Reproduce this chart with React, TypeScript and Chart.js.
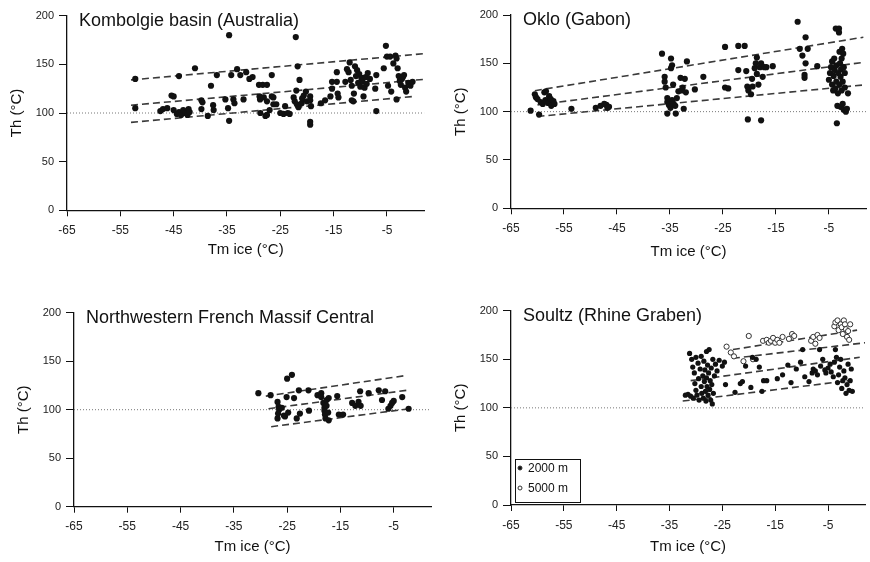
import { useEffect, useRef } from "react";
import { Chart, registerables } from "chart.js";

Chart.register(...registerables);

// ---------- shared axes ----------
const X_MIN = -65;
const X_MAX = 2;
const X_TICKS = [-65, -55, -45, -35, -25, -15, -5];
const Y_MIN = 0;
const Y_MAX = 200;
const Y_STEP = 50;
const REF_TH = 100;
const X_TITLE = "Tm ice (°C)";
const Y_TITLE = "Th (°C)";

// ---------- panel titles ----------
const TITLES = [
  "Kombolgie basin (Australia)",
  "Oklo (Gabon)",
  "Northwestern French Massif Central",
  "Soultz (Rhine Graben)",
];

// ---------- data: [Tm ice, Th] ----------
const KOMBOLGIE: [number, number][] = [
  [-52.2, 135], [-52.2, 105],
  [-47.5, 102], [-47, 104], [-46.2, 105], [-45.4, 118], [-45, 117], [-45, 103], [-44.4, 99], [-44, 138], [-44, 101],
  [-43.6, 98], [-43.2, 103], [-42.8, 100], [-42.4, 98], [-42.2, 104], [-42, 101],
  [-41, 146], [-39.8, 113], [-39.6, 111], [-39.8, 104], [-38.6, 97], [-38, 128], [-37.6, 108], [-37.5, 103],
  [-36.9, 139], [-35.3, 114], [-34.8, 105], [-34.6, 180], [-34.6, 92], [-34.2, 139], [-33.8, 114], [-33.6, 110],
  [-33.1, 145], [-32.5, 139], [-31.9, 114], [-31.4, 142], [-30.8, 135], [-30.2, 137],
  [-29, 129], [-28.9, 117], [-28.8, 114], [-28.75, 100], [-28.3, 129], [-28.1, 116], [-27.8, 97], [-27.5, 129],
  [-27.5, 112], [-27.5, 98], [-27, 103], [-26.6, 139], [-26.6, 117], [-26.3, 116], [-26.3, 109], [-25.75, 109],
  [-25, 100], [-24.4, 99], [-24.1, 107], [-23.6, 100], [-23.25, 99], [-22.5, 116], [-22.3, 112], [-22.1, 178],
  [-22, 123], [-21.75, 148], [-21.9, 109], [-21.6, 106], [-21.4, 134], [-21, 110], [-20.9, 115], [-20.6, 118],
  [-20.2, 122], [-20, 112], [-19.4, 117], [-19.4, 113], [-19.25, 107], [-19.4, 88], [-19.4, 91],
  [-17.4, 110], [-16.6, 113], [-15.3, 132], [-15.3, 125], [-15.6, 117], [-14.4, 142], [-14.4, 132], [-14.25, 120], [-14.1, 116],
  [-12.8, 132], [-12.2, 142], [-12.5, 145], [-12, 152], [-11.8, 134], [-11.6, 128], [-11.6, 113], [-11.3, 112],
  [-11, 148], [-11.2, 120], [-10.8, 138], [-10.6, 144], [-10.4, 131], [-10.2, 140], [-10, 127], [-9.8, 136],
  [-9.6, 133], [-9.4, 117], [-9.2, 126], [-9, 137], [-8.8, 130], [-8.6, 141], [-8.2, 135], [-7.2, 125], [-7, 139], [-7, 102],
  [-5.6, 146], [-5.2, 169], [-5, 158], [-4.8, 128], [-4.4, 158], [-4.2, 122], [-3.8, 151], [-3.4, 159], [-3.2, 156],
  [-3, 146], [-3.2, 114], [-2.8, 138], [-2.6, 133], [-2.4, 129], [-2.2, 135], [-2, 137], [-1.8, 139], [-1.6, 126],
  [-1.4, 122], [-1, 131], [-0.6, 128], [-0.2, 132],
];

const OKLO: [number, number][] = [
  [-61.3, 101],
  [-60.5, 118], [-60.3, 115], [-60, 113], [-59.7, 97], [-59.4, 110], [-59, 108], [-58.7, 120], [-58.5, 112],
  [-58.4, 121], [-58, 109], [-57.8, 116], [-57.5, 113], [-57.4, 106], [-57, 111], [-56.8, 108],
  [-53.6, 103],
  [-49, 104], [-48.1, 106], [-47.4, 108], [-47, 107], [-46.5, 105], [-46.8, 104],
  [-36.5, 160], [-36, 136], [-36, 131], [-35.8, 125], [-35.5, 114], [-35.5, 110], [-35.2, 107], [-35.5, 98],
  [-34.9, 104], [-34.8, 155], [-34.6, 148], [-34.8, 145], [-34.6, 112], [-34.3, 108], [-34.4, 128], [-34, 106],
  [-33.9, 98], [-33.7, 114], [-33.4, 121], [-33, 135], [-32.8, 122], [-32.6, 125], [-32.4, 103], [-32.2, 134],
  [-32, 120], [-31.8, 152],
  [-30.3, 123], [-28.7, 136],
  [-24.6, 167], [-24.6, 125], [-24, 124], [-22.1, 143], [-22.1, 168], [-20.9, 168], [-20.6, 142], [-20.3, 92],
  [-20.4, 126], [-20.2, 122], [-19.7, 118], [-19.5, 134], [-19.4, 126], [-19, 145], [-18.8, 150], [-18.6, 156],
  [-18.6, 139], [-18.3, 128], [-18, 146], [-17.8, 150], [-17.8, 91], [-17.5, 136], [-17.2, 146], [-16.8, 146],
  [-15.6, 147],
  [-10.9, 193], [-10.5, 165], [-10, 158], [-9.4, 177], [-9.4, 150], [-9.6, 138], [-9.6, 135], [-9, 165],
  [-7.2, 147],
  [-5, 133], [-4.8, 140], [-4.6, 146], [-4.4, 128], [-4.4, 152], [-4.2, 122], [-4.1, 137], [-4, 155], [-3.9, 143],
  [-3.8, 124], [-3.7, 186], [-3.6, 131], [-3.6, 148], [-3.5, 88], [-3.4, 106], [-3.3, 119], [-3.2, 140], [-3.1, 186],
  [-3.1, 182], [-3, 162], [-3, 128], [-2.9, 150], [-2.8, 105], [-2.8, 136], [-2.7, 144], [-2.6, 155], [-2.6, 122],
  [-2.5, 165], [-2.4, 131], [-2.4, 108], [-2.3, 160], [-2.2, 146], [-2.2, 102], [-2, 140], [-2, 125], [-1.8, 100],
  [-1.6, 103], [-1.4, 119],
];

const MASSIF_CENTRAL: [number, number][] = [
  [-30.4, 117], [-28.1, 115], [-26.8, 108], [-26.6, 103], [-26.5, 100], [-26.8, 91], [-26.7, 96], [-26, 102],
  [-25.6, 94], [-25.4, 93], [-25.1, 113], [-25, 132], [-24.8, 97], [-24.1, 136], [-23.7, 112], [-23.2, 91],
  [-22.8, 120], [-22.6, 96], [-21, 120], [-20.9, 99], [-19.3, 115], [-18.6, 117], [-18.6, 113], [-18.2, 107],
  [-18, 102], [-18, 99], [-17.9, 95], [-17.8, 91], [-17.6, 104], [-17.6, 110], [-17.3, 97], [-17.2, 112],
  [-17.2, 89], [-15.6, 114], [-15.3, 95], [-14.5, 95], [-12.8, 107], [-12.2, 104], [-11.6, 108], [-11.3, 119],
  [-11.2, 104], [-9.7, 117], [-7.8, 120], [-7.2, 110], [-6.6, 119], [-6, 101], [-5.6, 104], [-5.3, 107], [-5, 109],
  [-3.4, 113], [-2.2, 101],
];

const SOULTZ_2000: [number, number][] = [
  [-32, 113], [-31.5, 114], [-31.2, 156], [-31, 112], [-30.8, 150], [-30.6, 142], [-30.5, 110], [-30.3, 136], [-30.2, 125],
  [-30, 152], [-30, 118], [-29.8, 113], [-29.6, 146], [-29.5, 130], [-29.4, 108], [-29.2, 140], [-29, 153],
  [-29, 122], [-28.9, 115], [-28.7, 133], [-28.6, 110], [-28.5, 148], [-28.4, 127], [-28.3, 139], [-28.2, 117],
  [-28.1, 107], [-28, 158], [-28, 131], [-27.9, 122], [-27.8, 144], [-27.7, 113], [-27.6, 136], [-27.5, 160],
  [-27.4, 119], [-27.3, 128], [-27.2, 108], [-27.1, 141], [-27, 124], [-26.9, 104], [-26.8, 150], [-26.7, 115],
  [-26.5, 133], [-26.3, 145], [-26, 138], [-25.6, 149], [-25, 143], [-24.6, 147],
  [-24.4, 124], [-22.6, 116], [-21.6, 125], [-21.2, 127], [-20.6, 143], [-19.6, 121], [-19.3, 152], [-18.6, 150],
  [-18, 142], [-17.5, 117], [-17.2, 128], [-16.6, 128], [-14.6, 130], [-13.6, 134], [-12.6, 144], [-12, 126],
  [-11, 140], [-10.2, 147], [-9.8, 160], [-9.4, 132], [-8.6, 127], [-8, 136], [-7.8, 140], [-7.4, 138], [-7, 134],
  [-6.6, 160], [-6.4, 143], [-6, 150], [-5.6, 139], [-5.4, 136], [-5, 141], [-4.6, 145], [-4.4, 137], [-4, 132],
  [-3.8, 147], [-3.6, 160], [-3.4, 152], [-3.2, 126], [-3, 134], [-2.8, 142], [-2.6, 150], [-2.4, 120], [-2.2, 128],
  [-2, 138], [-1.8, 131], [-1.6, 115], [-1.4, 124], [-1.2, 145], [-1, 118], [-0.8, 128], [-0.6, 140], [-0.4, 117],
];

const SOULTZ_5000: [number, number][] = [
  [-24.2, 163], [-23.4, 157], [-22.8, 153], [-21, 148], [-20, 174], [-19.2, 150], [-17.3, 169], [-16.6, 170],
  [-16.2, 167], [-15.8, 169], [-15.4, 172], [-15, 167], [-14.6, 170], [-14.2, 167], [-13.6, 173], [-12.4, 171],
  [-11.8, 176], [-11.4, 174], [-8.2, 169], [-7.8, 173], [-7.4, 166], [-7, 175], [-6.6, 172], [-3.8, 184],
  [-3.6, 188], [-3.2, 190], [-3, 180], [-2.6, 186], [-2.4, 183], [-2.2, 176], [-2, 190], [-1.8, 186], [-1.6, 181],
  [-1.4, 173], [-1.2, 179], [-1, 170], [-0.8, 186],
];

const SOULTZ_LABELS = ["2000 m", "5000 m"];

// ---------- dashed trend lines: [x1, y1, x2, y2] ----------
const KOMBOLGIE_LINES: [number, number, number, number][] = [
  [-53, 134, 2, 161],
  [-53, 108, 2, 134.6],
  [-53, 90.4, 0, 117],
];
const OKLO_LINES: [number, number, number, number][] = [
  [-60.5, 121.7, 1.5, 177],
  [-60, 107, 1.5, 151],
  [-60, 95, 1.5, 127.6],
];
const MASSIF_LINES: [number, number, number, number][] = [
  [-29, 114, -3, 135],
  [-28.5, 101, -2.5, 120],
  [-28, 82.5, -2, 101],
];
const SOULTZ_LINES: [number, number, number, number][] = [
  [-23, 160, 0.5, 180],
  [-23, 151, 2, 167],
  [-31, 128, 1, 152],
  [-32.5, 107, -1, 128],
];

// ---------- layout (styles/positions, separate from data) ----------
const FONT = '"Liberation Sans", Arial, Helvetica, sans-serif';
const CW = 435;
const CH = 281;
const Y_AXIS_W = 60;

type Geo = { x: number; y: number; left: number; top: number; right: number; bottom: number; xGap: number };
const GEOS: Geo[] = [
  { x: 0, y: 0, left: 67, top: 15.7, right: 10.7, bottom: 210.3, xGap: 40 },
  { x: 435, y: 0, left: 76, top: 15, right: 2, bottom: 208.3, xGap: 44 },
  { x: 0, y: 281, left: 74, top: 31.7, right: 2.5, bottom: 225.7, xGap: 40.5 },
  { x: 435, y: 281, left: 76, top: 29.7, right: 3, bottom: 224, xGap: 42 },
];

const panelTextPlugin = {
  id: "panelText",
  afterDraw(chart: any, _args: any, opts: any) {
    const { ctx, chartArea } = chart;
    ctx.save();
    ctx.font = `18px ${FONT}`;
    ctx.fillStyle = "#111";
    ctx.textBaseline = "middle";
    ctx.textAlign = "left";
    ctx.fillText(opts.title, chartArea.left + 12, chartArea.top + 5);
    if (opts.legend) {
      const bx = chartArea.left + 4;
      const by = chartArea.bottom - 46;
      const bw = 65;
      const bh = 43;
      ctx.fillStyle = "#fff";
      ctx.fillRect(bx, by, bw, bh);
      ctx.strokeStyle = "#111";
      ctx.lineWidth = 1;
      ctx.strokeRect(bx + 0.5, by + 0.5, bw, bh);
      ctx.font = `12px ${FONT}`;
      opts.legend.forEach((item: any, i: number) => {
        const cy = by + 9 + i * 20;
        ctx.beginPath();
        ctx.arc(bx + 5, cy, 2, 0, Math.PI * 2);
        ctx.fillStyle = item.fill;
        ctx.fill();
        ctx.strokeStyle = "#333";
        ctx.lineWidth = 1;
        ctx.stroke();
        ctx.fillStyle = "#111";
        ctx.fillText(item.label, bx + 13, cy + 1);
      });
    }
    ctx.restore();
  },
};

function lineDatasets(lines: [number, number, number, number][]) {
  return lines.map((l) => ({
    type: "line" as const,
    data: [
      { x: l[0], y: l[1] },
      { x: l[2], y: l[3] },
    ],
    borderColor: "#3a3a3a",
    borderWidth: 1.6,
    borderDash: [7, 4],
    pointRadius: 0,
    fill: false,
    showLine: true,
  }));
}

function refLine() {
  return {
    type: "line" as const,
    data: [
      { x: X_MIN, y: REF_TH },
      { x: X_MAX, y: REF_TH },
    ],
    borderColor: "#777",
    borderWidth: 1,
    borderDash: [1, 2],
    pointRadius: 0,
    fill: false,
  };
}

function scatterSet(points: [number, number][], radius: number, filled: boolean, label = "") {
  return {
    type: "scatter" as const,
    label,
    data: points.map(([x, y]) => ({ x, y })),
    pointRadius: radius,
    pointBackgroundColor: filled ? "#111" : "#fff",
    pointBorderColor: filled ? "#111" : "#333",
    pointBorderWidth: filled ? 0 : 1,
  };
}

function buildConfig(idx: number): any {
  const g = GEOS[idx];
  const xAxisH = g.xGap + 9;
  let datasets: any[] = [];
  let legend: any = null;
  if (idx === 0) datasets = [scatterSet(KOMBOLGIE, 3.1, true), ...lineDatasets(KOMBOLGIE_LINES)];
  if (idx === 1) datasets = [scatterSet(OKLO, 3.1, true), ...lineDatasets(OKLO_LINES)];
  if (idx === 2) datasets = [scatterSet(MASSIF_CENTRAL, 3.1, true), ...lineDatasets(MASSIF_LINES)];
  if (idx === 3) {
    datasets = [
      scatterSet(SOULTZ_2000, 2.6, true, SOULTZ_LABELS[0]),
      scatterSet(SOULTZ_5000, 2.6, false, SOULTZ_LABELS[1]),
      ...lineDatasets(SOULTZ_LINES),
    ];
    legend = [
      { label: SOULTZ_LABELS[0], fill: "#111" },
      { label: SOULTZ_LABELS[1], fill: "#fff" },
    ];
  }
  datasets.push(refLine());

  return {
    type: "scatter",
    data: { datasets },
    plugins: [panelTextPlugin],
    options: {
      responsive: false,
      animation: false,
      events: [],
      layout: {
        padding: {
          left: g.left - Y_AXIS_W,
          right: g.right,
          top: g.top,
          bottom: CH - g.bottom - xAxisH,
        },
      },
      plugins: {
        legend: { display: false },
        tooltip: { enabled: false },
        panelText: { title: TITLES[idx], legend },
      },
      scales: {
        x: {
          type: "linear",
          min: X_MIN,
          max: X_MAX,
          afterBuildTicks: (s: any) => {
            s.ticks = X_TICKS.map((value) => ({ value }));
          },
          afterFit: (s: any) => {
            s.height = xAxisH;
          },
          ticks: {
            autoSkip: false,
            maxRotation: 0,
            padding: 7,
            color: "#222",
            font: { size: 12, family: FONT },
            callback: (v: any) => String(v),
          },
          grid: { display: true, drawOnChartArea: false, drawTicks: true, tickLength: 6, color: "#111", lineWidth: 1 },
          border: { display: true, color: "#111", width: 1.3 },
          title: {
            display: true,
            text: X_TITLE,
            color: "#111",
            font: { size: 15, family: FONT },
            padding: { top: 0, bottom: 0 },
          },
        },
        y: {
          type: "linear",
          min: Y_MIN,
          max: Y_MAX,
          afterFit: (s: any) => {
            s.width = Y_AXIS_W;
          },
          ticks: {
            stepSize: Y_STEP,
            padding: 5,
            color: "#222",
            font: { size: 11, family: FONT },
          },
          grid: { display: true, drawOnChartArea: false, drawTicks: true, tickLength: 8, color: "#111", lineWidth: 1 },
          border: { display: true, color: "#111", width: 1.3 },
          title: {
            display: true,
            text: Y_TITLE,
            color: "#111",
            font: { size: 15, family: FONT },
            padding: { top: 1, bottom: 0 },
          },
        },
      },
    },
  };
}

function Panel({ idx }: { idx: number }) {
  const ref = useRef<HTMLCanvasElement>(null);
  const g = GEOS[idx];
  useEffect(() => {
    if (!ref.current) return;
    const chart = new Chart(ref.current, buildConfig(idx));
    return () => chart.destroy();
  }, [idx]);
  return (
    <canvas
      ref={ref}
      width={CW}
      height={CH}
      style={{ position: "absolute", left: g.x, top: g.y, width: CW, height: CH }}
    />
  );
}

export default function App() {
  return (
    <div style={{ position: "fixed", left: 0, top: 0, width: 870, height: 562, background: "#fff" }}>
      {[0, 1, 2, 3].map((i) => (
        <Panel key={i} idx={i} />
      ))}
    </div>
  );
}
